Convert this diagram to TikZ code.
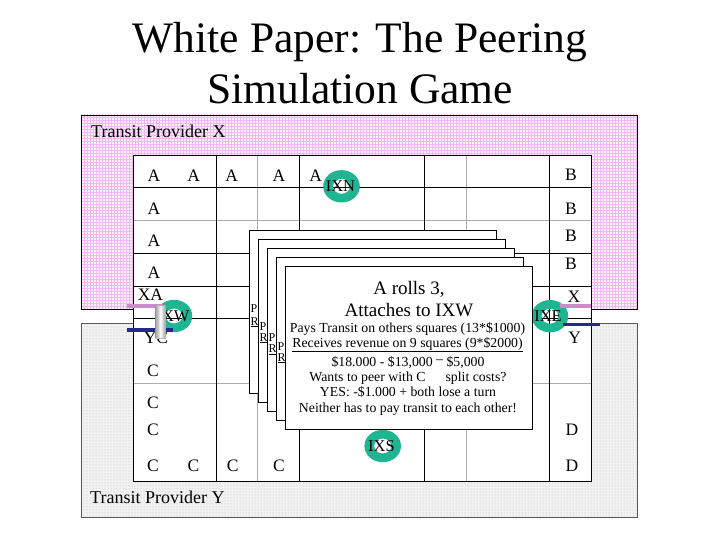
\documentclass[tikz,border=0pt]{standalone}
\usepackage{fontspec}
\setmainfont{Liberation Serif}
\usetikzlibrary{patterns}
\definecolor{teal1}{RGB}{30,182,146}
\definecolor{pinkbar}{RGB}{204,140,204}
\definecolor{navybar}{RGB}{40,40,140}
\definecolor{pinkbg}{RGB}{253,240,253}
\definecolor{pinkgrid}{RGB}{240,186,240}
\tikzset{
  celltxt/.style={inner sep=0pt, font=\fontsize{17.5}{19}\selectfont},
  provtxt/.style={inner sep=0pt, anchor=base west, font=\fontsize{18}{20}\selectfont},
  titletxt/.style={inner sep=0pt, anchor=base, font=\fontsize{43.5}{46}\selectfont},
  bigcard/.style={inner sep=0pt, anchor=base, font=\fontsize{19}{21}\selectfont},
  smallcard/.style={inner sep=0pt, anchor=base, font=\fontsize{13.8}{15}\selectfont},
  fragtxt/.style={inner sep=0pt, anchor=base west, font=\fontsize{12}{14}\selectfont},
  ixtxt/.style={inner sep=0pt, font=\fontsize{16.5}{18}\selectfont},
  cardbox/.style={fill=white, draw=black, line width=0.8pt},
  blackline/.style={draw=black, line width=1pt},
  grayline/.style={draw=gray!65, line width=0.8pt},
}
\begin{document}
\begin{tikzpicture}[x=1pt,y=-1pt]
\useasboundingbox (0,0) rectangle (720,540);
\fill[white] (0,0) rectangle (720,540);

% title
\node[titletxt] (title1) at (360,53) {White Paper: The Peering};
\node[titletxt] (title2) at (360,104) {Simulation Game};

% provider areas
\fill[pinkbg] (81,115) rectangle (637,309);
\fill[pattern=grid, pattern color=pinkgrid] (81,115) rectangle (637,309);
\draw[line width=0.6pt] (81,115) rectangle (637,309);
\fill[gray!10] (81,323) rectangle (637,517);
\fill[pattern=dots, pattern color=gray!55] (81,323) rectangle (637,517);
\draw[line width=0.6pt, draw=gray!70!black] (81,323) rectangle (637,517);
\node[provtxt] (provX) at (91,138) {Transit Provider X};
\node[provtxt] (provY) at (90,503.5) {Transit Provider Y};

% board
\fill[white] (133,156) rectangle (591,481);
\foreach \xx in {257,466} \draw[grayline] (\xx,156) -- (\xx,481);
\foreach \yy in {220,383} \draw[grayline] (133,\yy) -- (591,\yy);
\foreach \xx in {216,299,424,549} \draw[blackline] (\xx,156) -- (\xx,481);
\foreach \yy in {188,253,286,318} \draw[blackline] (133,\yy) -- (591,\yy);
\draw[blackline] (133,156) rectangle (591,481);

% cell letters
\node[celltxt] (a1) at (154,175.3) {A};
\node[celltxt] (a2) at (193.6,175.3) {A};
\node[celltxt] (a3) at (231.8,175.3) {A};
\node[celltxt] (a4) at (279,175.3) {A};
\node[celltxt] (a5) at (315.7,175.3) {A};
\node[celltxt] (a6) at (154,208.7) {A};
\node[celltxt] (a7) at (154,240.8) {A};
\node[celltxt] (a8) at (154,272.5) {A};
\node[celltxt] (xa) at (150.5,295) {XA};
\node[celltxt] (b1) at (571,175) {B};
\node[celltxt] (b2) at (571,208.7) {B};
\node[celltxt] (b3) at (571,235.8) {B};
\node[celltxt] (b4) at (571,263.5) {B};
\node[celltxt] (xx) at (574,296.7) {X};
\node[celltxt] (yc) at (156,337.5) {YC};
\node[celltxt] (c1) at (153,370.8) {C};
\node[celltxt] (c2) at (153,402.8) {C};
\node[celltxt] (c3) at (153,429.7) {C};
\node[celltxt] (c4) at (153,466) {C};
\node[celltxt] (c5) at (193.4,466) {C};
\node[celltxt] (c6) at (232.7,466) {C};
\node[celltxt] (c7) at (279,466) {C};
\node[celltxt] (yy) at (574.6,337.5) {Y};
\node[celltxt] (d1) at (572,429.7) {D};
\node[celltxt] (d2) at (572,466) {D};

% exchange points
\fill[teal1, even odd rule] (341.5,186.3) ellipse [x radius=18.3, y radius=16.2]
   (341.5,186.3) ellipse [x radius=8.5, y radius=7.5];
\node[ixtxt] (ixn) at (340.5,186.3) {IXN};
\fill[teal1, even odd rule] (382.7,446) ellipse [x radius=18.3, y radius=16.2]
   (382.7,446) ellipse [x radius=8.5, y radius=7.5];
\node[ixtxt] (ixs) at (381.5,446) {IXS};
\fill[teal1, even odd rule] (550,316.2) ellipse [x radius=18.3, y radius=16.2]
   (550,316.2) ellipse [x radius=8.5, y radius=7.5];
\node[ixtxt] (ixe) at (548,316.2) {IXE};
\fill[teal1, even odd rule] (174,316) ellipse [x radius=18.3, y radius=16.2]
   (174,316) ellipse [x radius=8.5, y radius=7.5];
\node[ixtxt] (ixw) at (173,316) {IXW};

% links to the transit providers
\fill[pinkbar] (127,304) rectangle (163,308.3);
\fill[navybar] (127,327.7) rectangle (173,331.7);
\fill[pinkbar] (560,304) rectangle (591,308.3);
\fill[navybar] (563,322.7) rectangle (600,326.3);
\shade[left color=gray!75, right color=gray!75, middle color=white] (155.7,305) rectangle (165.3,338);
\draw[gray!60, line width=0.4pt] (155.7,305) rectangle (165.3,338);

% stack of cards
\draw[cardbox] (249,230.3) rectangle ++(247,162.6);
\node[fragtxt] (f0a) at (250.5,312) {P};
\node[fragtxt] (f0b) at (250.5,325) {\underline{R}};
\draw[cardbox] (258,239.4) rectangle ++(247,162.6);
\node[fragtxt] (f1a) at (259.5,330) {P};
\node[fragtxt] (f1b) at (259.5,341) {\underline{R}};
\draw[cardbox] (267,248.5) rectangle ++(247,162.6);
\node[fragtxt] (f2a) at (268.5,341.7) {P};
\node[fragtxt] (f2b) at (268.5,352.7) {\underline{R}};
\draw[cardbox] (276,257.6) rectangle ++(247,162.6);
\node[fragtxt] (f3a) at (277.5,350) {P};
\node[fragtxt] (f3b) at (277.5,361) {\underline{R}};
\draw[cardbox] (285,266.7) rectangle ++(247,162.6);

% front card text
\node[bigcard] (l1) at (409,294) {A rolls 3,};
\node[bigcard] (l2) at (409,316.7) {Attaches to IXW};
\node[smallcard] (l3) at (407.5,332.7) {Pays Transit on others squares (13*\$1000)};
\node[smallcard] (l4) at (407.5,347.3) {\underline{Receives revenue on 9 squares (9*\$2000)}};
\node[smallcard] (l5) at (408,366.7) {\$18.000 - \$13,000 \raisebox{0.22em}{–} \$5,000};
\node[smallcard] (l6) at (408,381.7) {Wants to peer with C\hspace{1.2em} split costs?};
\node[smallcard] (l7) at (408,396.7) {YES: -\$1.000 + both lose a turn};
\node[smallcard] (l8) at (408,412.7) {Neither has to pay transit to each other!};
\end{tikzpicture}
\end{document}
